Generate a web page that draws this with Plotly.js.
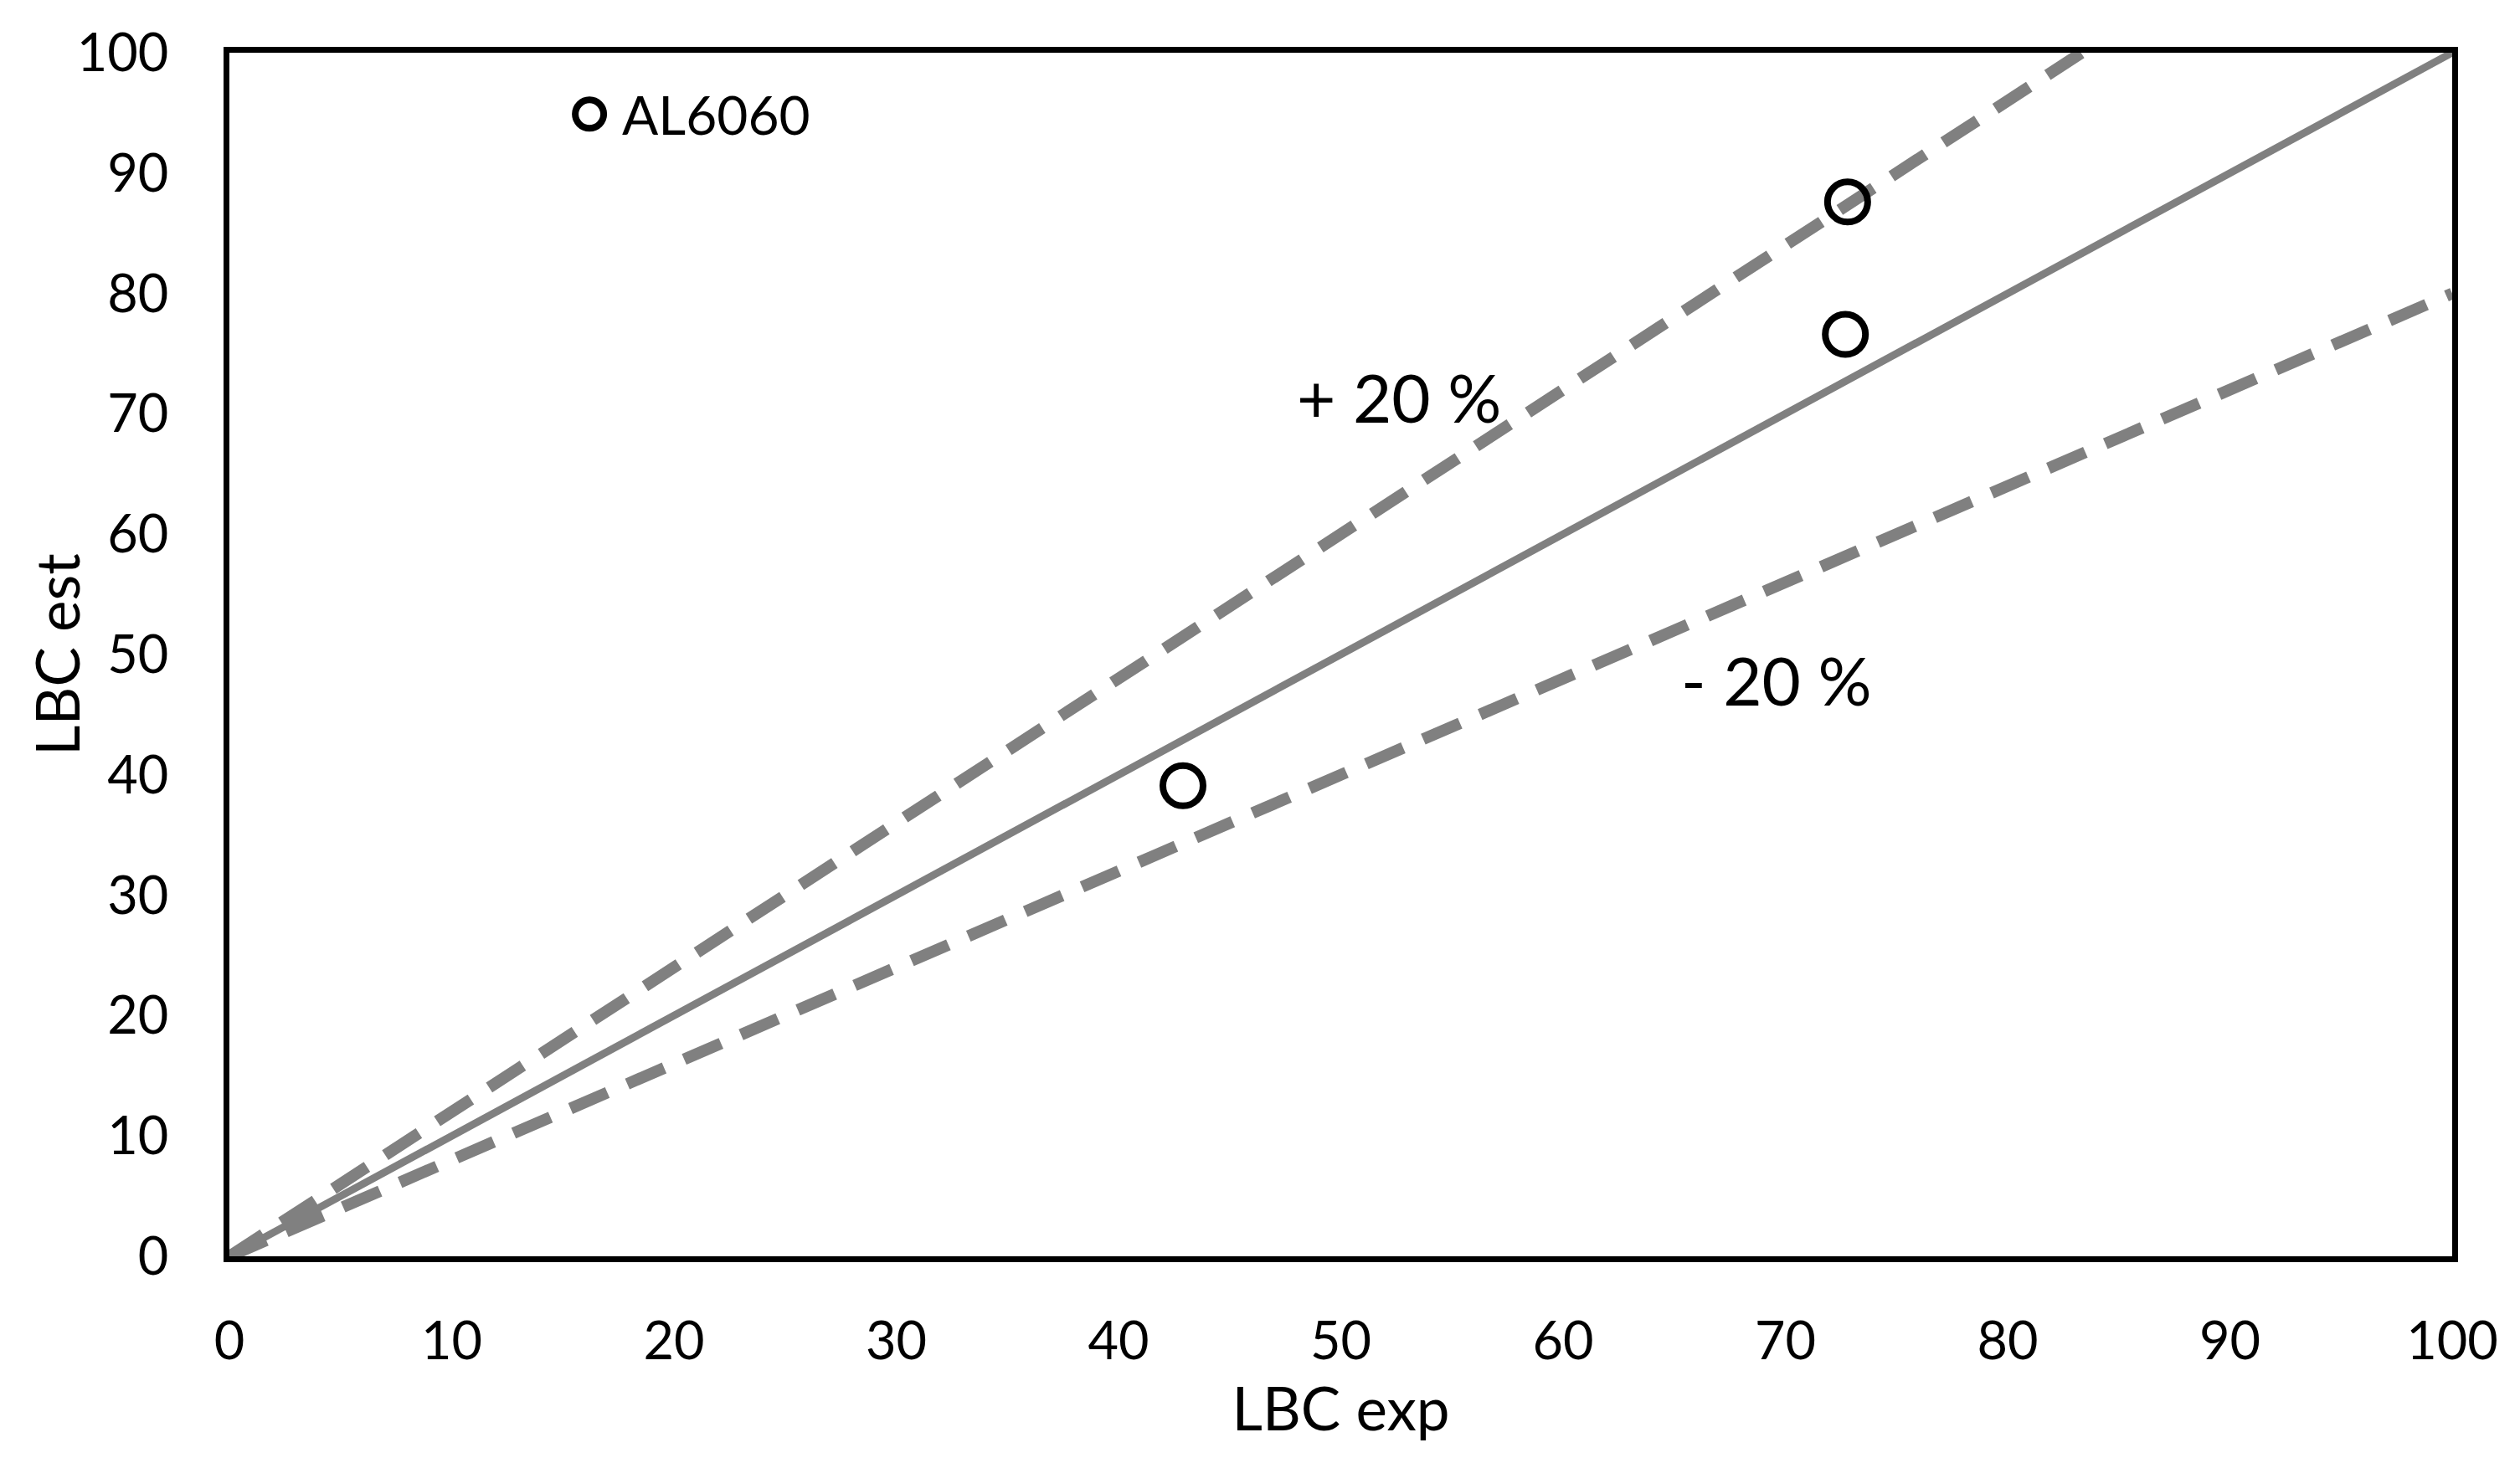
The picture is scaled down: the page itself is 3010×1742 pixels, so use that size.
<!DOCTYPE html>
<html>
<head>
<meta charset="utf-8">
<script src="https://cdn.plot.ly/plotly-3.0.1.min.js"></script>
<style>html,body{margin:0;padding:0;background:#fff;}#chart{width:3010px;height:1742px;}</style>
</head>
<body>
<div id="chart"></div>
<script>
// Data
const lineX = [0, 100];
const lineY = [0, 100];
const upperX = [0, 83.33];
const upperY = [0, 100];
const lowerX = [0, 100];
const lowerY = [0, 80];
const pointsX = [72.8, 72.7, 42.9];
const pointsY = [87.6, 76.6, 39.1];
const al6060X = [16.2];
const al6060Y = [94.9];
const tickVals = [0, 10, 20, 30, 40, 50, 60, 70, 80, 90, 100];

const FONT = 'Lato, "Liberation Sans", sans-serif';
const gray = '#808080';

const traces = [
  {x: lowerX, y: lowerY, mode: 'lines', line: {color: gray, width: 14, dash: '48px,26px'}, hoverinfo: 'skip'},
  {x: upperX, y: upperY, mode: 'lines', line: {color: gray, width: 14, dash: '48px,26px'}, hoverinfo: 'skip'},
  {x: lineX, y: lineY, mode: 'lines', line: {color: gray, width: 9}, hoverinfo: 'skip'},
  {x: pointsX, y: pointsY, mode: 'markers', marker: {symbol: 'circle-open', size: 48, color: '#000', line: {width: 8, color: '#000'}}},
  {x: al6060X, y: al6060Y, mode: 'markers', marker: {symbol: 'circle-open', size: 34, color: '#000', line: {width: 8, color: '#000'}}}
];

const axisCommon = {
  range: [0, 100], tickvals: tickVals, showgrid: false, zeroline: false,
  showline: true, mirror: true, linecolor: '#000', linewidth: 7,
  ticks: '', tickfont: {family: FONT, size: 63, color: '#000'}
};

const layout = {
  width: 3010, height: 1742,
  margin: {l: 274, r: 81, t: 63, b: 241},
  paper_bgcolor: '#fff', plot_bgcolor: '#fff',
  showlegend: false,
  xaxis: Object.assign({}, axisCommon, {
    title: {text: 'LBC exp', font: {family: FONT, size: 71, color: '#000'}, standoff: 26},
    ticklabelstandoff: 40
  }),
  yaxis: Object.assign({}, axisCommon, {
    ticklabelstandoff: 53
  }),
  annotations: [
    {x: -0.078, y: 0.5, xref: 'paper', yref: 'paper', text: 'LBC est', textangle: -90, showarrow: false, xanchor: 'center', yanchor: 'middle', font: {family: FONT, size: 71, color: '#000'}},
    {x: 52.6, y: 71.4, xref: 'x', yref: 'y', text: '+ 20 %', showarrow: false, font: {family: FONT, size: 80, color: '#000'}},
    {x: 69.6, y: 47.9, xref: 'x', yref: 'y', text: '- 20 %', showarrow: false, font: {family: FONT, size: 80, color: '#000'}},
    {x: 17.6, y: 94.9, xref: 'x', yref: 'y', text: 'AL6060', showarrow: false, xanchor: 'left', font: {family: FONT, size: 64, color: '#000'}}
  ]
};

Plotly.newPlot('chart', traces, layout, {displayModeBar: false, staticPlot: true});
</script>
</body>
</html>
